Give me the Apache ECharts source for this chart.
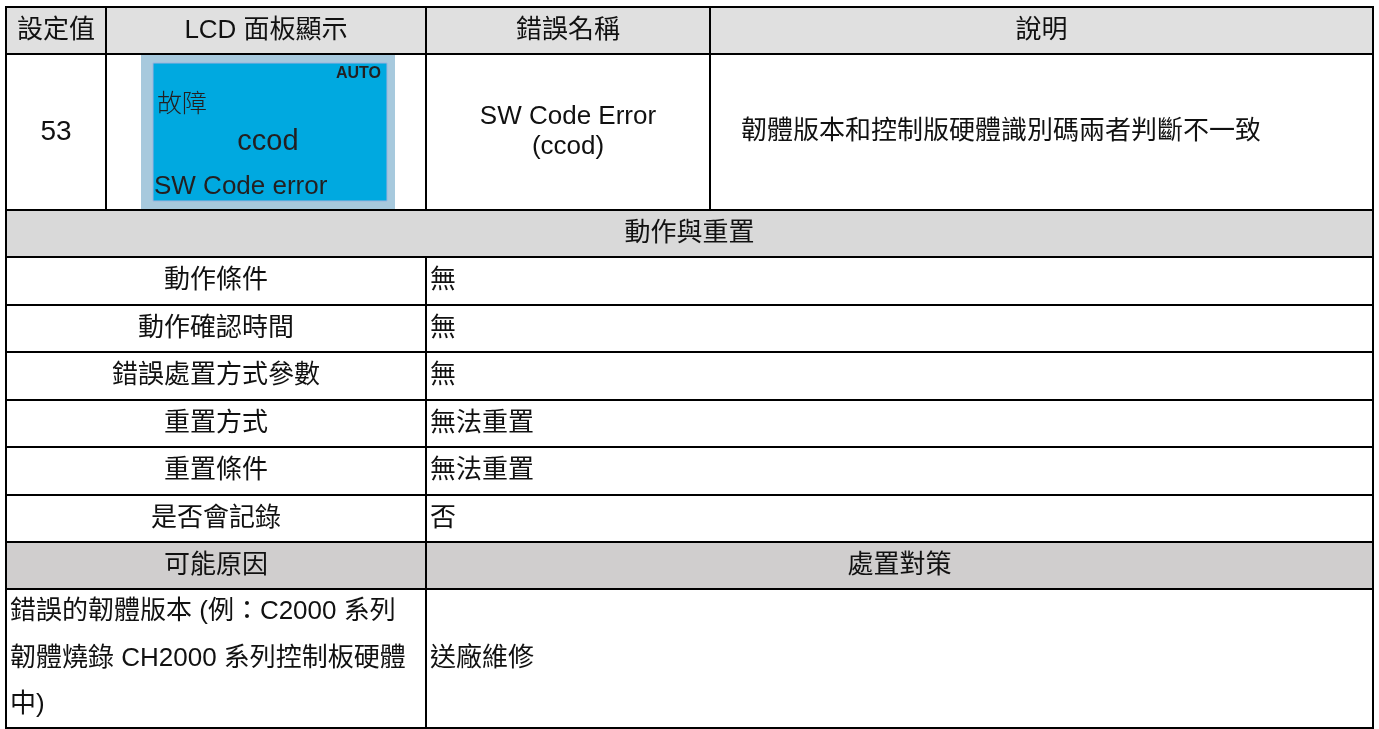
<!DOCTYPE html>
<html><head><meta charset="utf-8">
<script src="https://cdn.jsdelivr.net/npm/echarts@6/dist/echarts.min.js"></script>
<style>html,body{margin:0;padding:0;background:#fff}#c{width:1379px;height:729px}</style>
</head><body><div id="c"></div>
<script>
// ---- content ----
const headers = ['設定值', 'LCD 面板顯示', '錯誤名稱', '說明'];
const settingValue = '53';
const lcdLines = ['AUTO', '故障', 'ccod', 'SW Code error'];
const errorName = ['SW Code Error', '(ccod)'];
const description = '韌體版本和控制版硬體識別碼兩者判斷不一致';
const sectionTitle = '動作與重置';
const conditionLabels = ['動作條件', '動作確認時間', '錯誤處置方式參數', '重置方式', '重置條件', '是否會記錄'];
const conditionValues = ['無', '無', '無', '無法重置', '無法重置', '否'];
const causeHeaders = ['可能原因', '處置對策'];
const causeLines = ['錯誤的韌體版本 (例：C2000 系列', '韌體燒錄 CH2000 系列控制板硬體', '中)'];
const remedy = '送廠維修';

// ---- layout (pixel units of the axes) ----
const colEdges = [6, 106, 426, 710, 1373];
const rowEdges = [7, 54, 210, 257, 305, 352, 400, 447, 495, 542, 589, 728];
const FONT = '"Liberation Sans", Arial, "Noto Sans CJK TC", sans-serif';
const HEADER_BG = '#e0e0e0', SECTION_BG = '#d9d9d9', CAUSE_BG = '#d0cece', WHITE = '#ffffff';

const cells = [];
headers.forEach((t, i) => cells.push({ c0: i, c1: i + 1, r0: 0, r1: 1, text: t, bg: HEADER_BG, align: 'center' }));
cells.push({ c0: 0, c1: 1, r0: 1, r1: 2, text: settingValue, bg: WHITE, align: 'center', size: 28 });
cells.push({ c0: 1, c1: 2, r0: 1, r1: 2, bg: WHITE, lcd: true });
cells.push({ c0: 2, c1: 3, r0: 1, r1: 2, text: errorName.join('\n'), bg: WHITE, align: 'center', lh: 30 });
cells.push({ c0: 3, c1: 4, r0: 1, r1: 2, text: description, bg: WHITE, align: 'left', pad: 31 });
cells.push({ c0: 0, c1: 4, r0: 2, r1: 3, text: sectionTitle, bg: SECTION_BG, align: 'center' });
conditionLabels.forEach((t, i) => {
  cells.push({ c0: 0, c1: 2, r0: 3 + i, r1: 4 + i, text: t, bg: WHITE, align: 'center' });
  cells.push({ c0: 2, c1: 4, r0: 3 + i, r1: 4 + i, text: conditionValues[i], bg: WHITE, align: 'left', pad: 4 });
});
cells.push({ c0: 0, c1: 2, r0: 9, r1: 10, text: causeHeaders[0], bg: CAUSE_BG, align: 'center' });
cells.push({ c0: 2, c1: 4, r0: 9, r1: 10, text: causeHeaders[1], bg: CAUSE_BG, align: 'center' });
cells.push({ c0: 0, c1: 2, r0: 10, r1: 11, text: causeLines.join('\n'), bg: WHITE, align: 'left', pad: 4, lh: 46.5 });
cells.push({ c0: 2, c1: 4, r0: 10, r1: 11, text: remedy, bg: WHITE, align: 'left', pad: 4 });

const data = cells.map(c => [colEdges[c.c0], rowEdges[c.r0], colEdges[c.c1], rowEdges[c.r1]]);

function lcdElements(x0, y0, w, h) {
  const px0 = x0 + 35, px1 = x0 + w - 31;
  const ix = x0 + 47, iy = y0 + 9, iw = 234, ih = 138;
  const lcdFont = '"Liberation Sans", Arial, "Noto Sans CJK TC", sans-serif';
  return [
    { type: 'rect', z2: 5, shape: { x: px0, y: y0 + 1, width: px1 - px0, height: h - 2 }, style: { fill: '#a7c9dd' } },
    { type: 'rect', z2: 6, shape: { x: ix, y: iy, width: iw, height: ih }, style: { fill: '#00a9e0', stroke: '#9db2dc', lineWidth: 1 } },
    { type: 'text', z2: 7, style: { text: lcdLines[0], x: ix + iw - 6, y: iy + 11, align: 'right', verticalAlign: 'middle', fill: '#231f20', fontSize: 16, fontWeight: 'bold', fontFamily: lcdFont } },
    { type: 'text', z2: 7, style: { text: lcdLines[1], x: ix + 4, y: iy + 42, align: 'left', verticalAlign: 'middle', fill: '#231f20', fontSize: 25, fontWeight: 300, fontFamily: lcdFont } },
    { type: 'text', z2: 7, style: { text: lcdLines[2], x: ix + 115, y: iy + 79, align: 'center', verticalAlign: 'middle', fill: '#231f20', fontSize: 29, fontFamily: lcdFont } },
    { type: 'text', z2: 7, style: { text: lcdLines[3], x: ix + 1, y: iy + 124, align: 'left', verticalAlign: 'middle', fill: '#231f20', fontSize: 26, fontFamily: lcdFont } }
  ];
}

function renderItem(params, api) {
  const cell = cells[params.dataIndex];
  const a = api.coord([api.value(0), api.value(1)]);
  const b = api.coord([api.value(2), api.value(3)]);
  const x0 = a[0], y0 = a[1], w = b[0] - a[0], h = b[1] - a[1];
  const children = [
    { type: 'rect', z2: 0, shape: { x: x0, y: y0, width: w, height: h }, style: { fill: cell.bg } },
    { type: 'rect', z2: 10, shape: { x: x0, y: y0, width: w, height: h }, style: { fill: null, stroke: '#000', lineWidth: 2 } }
  ];
  if (cell.text != null) {
    const tx = cell.align === 'center' ? x0 + w / 2 : x0 + cell.pad;
    children.push({ type: 'text', z2: 20, style: {
      text: cell.text, x: tx, y: y0 + h / 2, align: cell.align, verticalAlign: 'middle',
      fill: '#111', fontSize: cell.size || 26, fontFamily: FONT, lineHeight: cell.lh || 32 } });
  }
  if (cell.lcd) children.push(...lcdElements(x0, y0, w, h));
  return { type: 'group', children };
}

const chart = echarts.init(document.getElementById('c'), null, { renderer: 'canvas' });
chart.setOption({
  animation: false,
  backgroundColor: '#ffffff',
  grid: { left: 0, right: 0, top: 0, bottom: 0 },
  xAxis: { type: 'value', min: 0, max: 1379, show: false },
  yAxis: { type: 'value', min: 0, max: 729, inverse: true, show: false },
  series: [{
    type: 'custom', renderItem, clip: false, silent: true,
    encode: { x: [0, 2], y: [1, 3] },
    data
  }]
});
</script></body></html>
